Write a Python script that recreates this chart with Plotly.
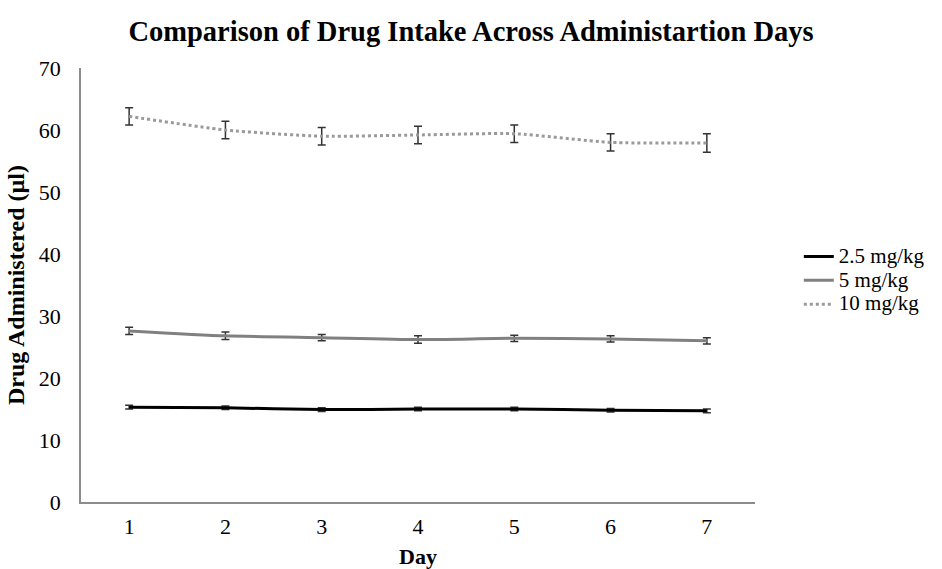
import plotly.graph_objects as go

days = ["1", "2", "3", "4", "5", "6", "7"]
series_names = ["2.5 mg/kg", "5 mg/kg", "10 mg/kg"]
dose_2_5 = [15.3, 15.2, 14.9, 15.0, 15.0, 14.8, 14.7]
err_2_5 = [0.3, 0.3, 0.3, 0.3, 0.3, 0.3, 0.3]
dose_5 = [27.6, 26.8, 26.5, 26.2, 26.4, 26.3, 26.0]
err_5 = [0.6, 0.6, 0.5, 0.6, 0.5, 0.5, 0.5]
dose_10 = [62.2, 60.0, 59.0, 59.2, 59.4, 58.0, 57.9]
err_10 = [1.4, 1.4, 1.4, 1.4, 1.4, 1.4, 1.5]

font_family = "Liberation Serif, Times New Roman, serif"

fig = go.Figure()
styles = [
    (dose_2_5, err_2_5, "#000000", "solid", 3),
    (dose_5, err_5, "#808080", "solid", 3),
    (dose_10, err_10, "#9a9a9a", "dot", 3),
]
for name, (vals, errs, color, dash, w) in zip(series_names, styles):
    fig.add_trace(go.Scatter(
        x=days, y=vals, name='<span style="font-size:21px">' + name + '</span>',
        mode="lines",
        line=dict(color=color, width=w, dash=dash, shape="spline", smoothing=0.6),
        error_y=dict(type="data", array=errs, visible=True, color="#333333",
                     thickness=1.5, width=4),
    ))

fig.update_layout(
    width=942, height=569,
    margin=dict(l=81, r=187, t=68, b=67),
    paper_bgcolor="white", plot_bgcolor="white",
    font=dict(family=font_family, size=22, color="#000000"),
    title=dict(text="<b>Comparison of Drug Intake Across Administartion Days</b>",
               x=0.5, xref="container", xanchor="center", y=0.945, yanchor="middle",
               font=dict(size=28.5, family=font_family)),
    legend=dict(x=1.065, y=0.51, xanchor="left", yanchor="middle",
                font=dict(size=16, family=font_family),
                bgcolor="rgba(0,0,0,0)", tracegroupgap=0),
    showlegend=True,
)
fig.update_xaxes(
    type="category", range=[-0.5, 6.5], showgrid=False, showline=True,
    linecolor="#8c8c8c", linewidth=1.5, ticks="outside", ticklen=4,
    tickcolor="rgba(0,0,0,0)", zeroline=False, automargin=False,
    title=dict(text="<b>Day</b>", font=dict(size=22)),
    tickfont=dict(size=22),
)
fig.update_yaxes(
    range=[0, 70], dtick=10, showgrid=False, showline=True, linecolor="#8c8c8c",
    linewidth=1.5, ticks="outside", ticklen=14, tickcolor="rgba(0,0,0,0)",
    zeroline=False,
    title=dict(text="<b>Drug Administered (µl)</b>", font=dict(size=24), standoff=7),
    tickfont=dict(size=22),
)

fig.write_html("out.html")
